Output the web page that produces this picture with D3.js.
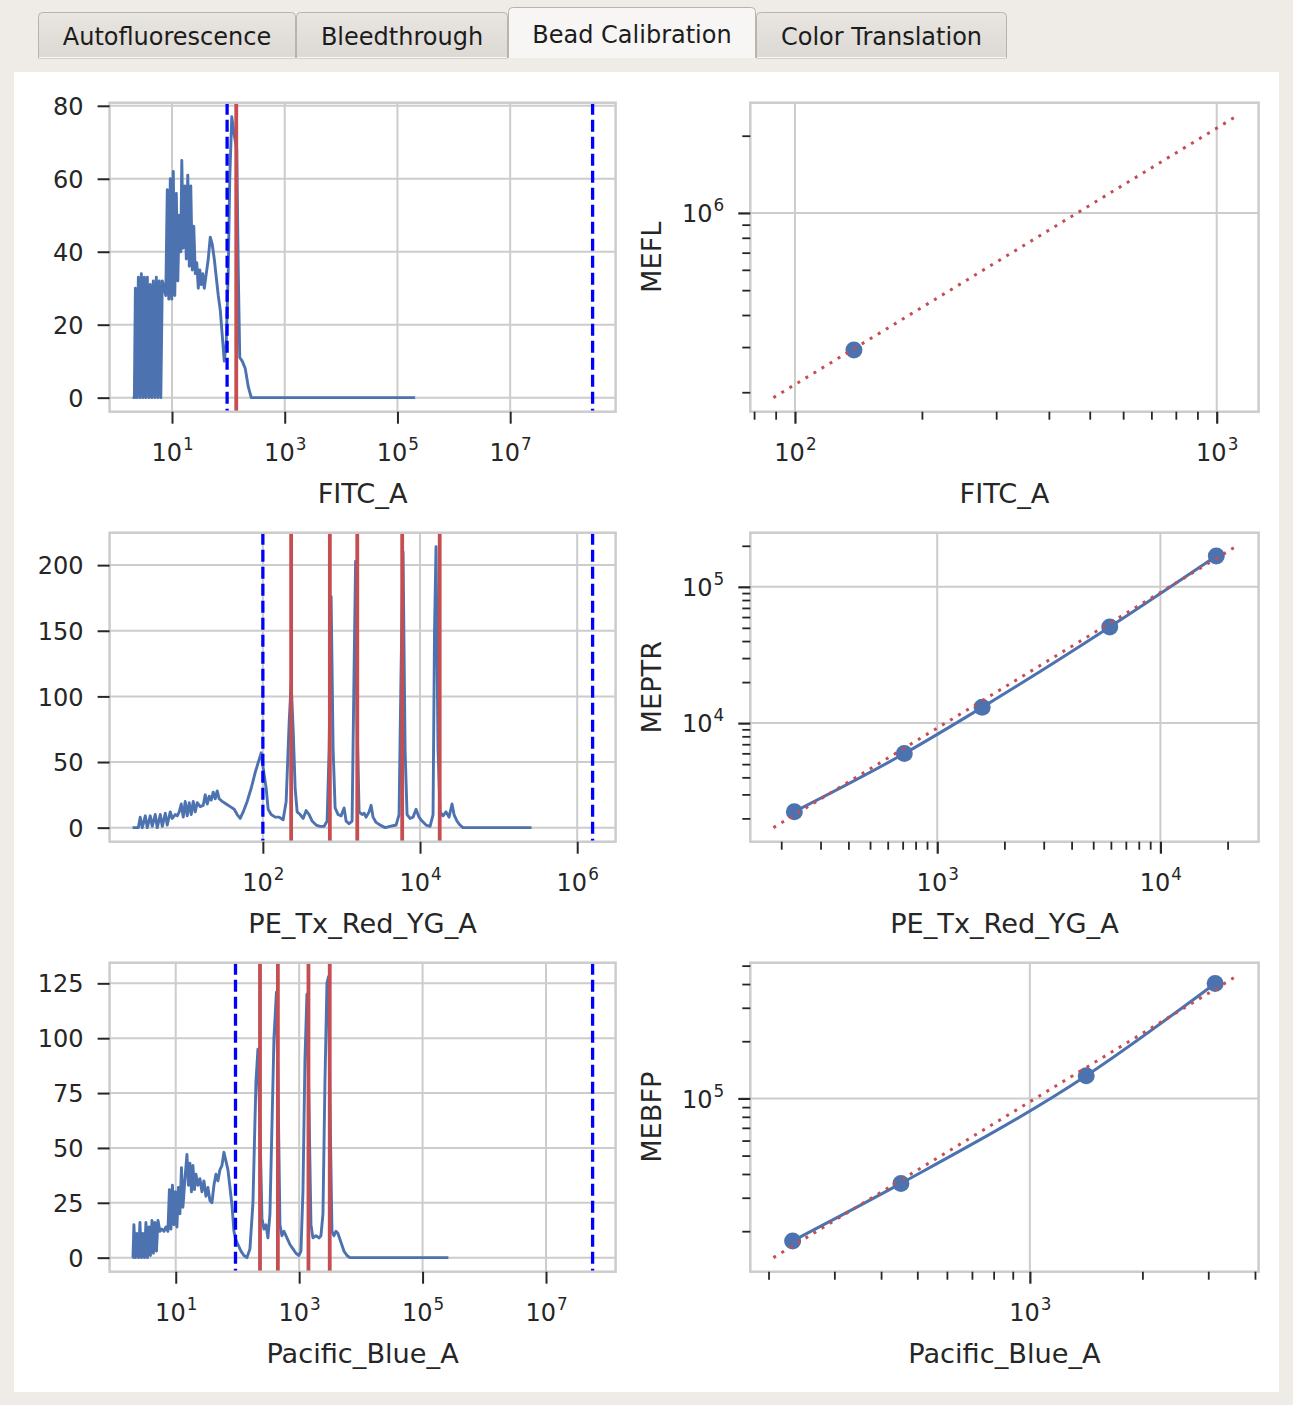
<!DOCTYPE html>
<html><head><meta charset="utf-8">
<script src="https://cdn.jsdelivr.net/npm/d3@7"></script>
<style>
html,body{margin:0;padding:0;background:#efece8;}
svg{display:block;}
</style></head><body>
<svg id="chart" width="1293" height="1405"></svg>
<script>
// ---------------- DATA ----------------
const tabLabels = ["Autofluorescence", "Bleedthrough", "Bead Calibration", "Color Translation"];
const activeTab = "Bead Calibration";

// FITC_A bead histogram
const fitcBins = [2.0,2.15,2.24,2.38,2.53,2.69,2.86,3.04,3.23,3.43,3.65,3.88,4.12,4.38,4.66,4.95,5.27,5.60,5.95,6.33,6.73,7.30,7.76,8.25,8.77,9.33,9.92,10.54,11.21,11.92,12.67,13.47,14.32,14.92,15.86,16.87,17.93,19.06,20.26,21.54,22.90,24.35,25.89,27.53,29.27,31.11,33.07,35.17,37.39,40.56,44.01,47.76,51.82,56.23,61.02,66.21,71.84,77.95,84.58,91.77,99.59,105.9,114.9,127.2,140.9,149.8,159.3,176.4,199.4,225.4,254.7,205900];
const fitcCounts = [0,0,30,0,33,0,34,0,33,0,33,0,31,0,32,0,33,0,32,0,32,30,28,57,27,60,27,62,28,56,32,50,40,65,41,58,38,61,36,58,35,47,34,37,30,35,31,34,30,34,38,44,42,38,33,28,24,17,10,15,35,60,77,72,68,35,11,10,8,3,0,0];
const fitcGates = [95, 2.9e8];
const fitcPeaks = [138];
const fitcHistXTicks = [1e1, 1e3, 1e5, 1e7];
const fitcHistYTicks = [0, 20, 40, 60, 80];

// FITC_A -> MEFL calibration
const fitcBeadX = [138];
const fitcBeadMEFL = [292000];
const fitcFitX = [88.9, 1108];
const fitcFitY = [190500, 2371000];
const mefXTicks = [1e2, 1e3];
const mefYTicks = [1e6];

// PE_Tx_Red_YG_A bead histogram
const peBins = [2.2,2.6,2.75,2.92,3.19,3.38,3.69,3.91,4.27,4.53,4.95,5.25,5.73,6.07,6.63,7.03,7.67,8.14,8.63,9.15,9.70,10.28,10.90,11.56,12.26,13.00,13.78,14.61,15.95,17.42,18.47,19.58,20.77,22.02,23.34,24.75,26.24,27.82,30.38,34.16,38.40,43.17,47.13,51.47,56.18,63.16,71.01,79.84,89.74,95.16,103.9,110.2,116.8,127.5,143.4,161.2,181.2,197.9,216.0,229.1,242.9,257.6,273.1,298.1,325.5,355.4,388.0,423.7,476.3,535.4,601.9,657.2,696.8,738.8,783.3,830.6,907,990,1081,1146,1251,1366,1448,1514,1582,1677,1831,1942,2058,2247,2383,2526,2759,3101,3590,4156,4955,5409,5736,6081,6448,6837,7464,8149,8898,9714,10610,11930,13410,14640,15290,15980,16940,17970,19620,21420,23380,25530,27060,29550,32270,35230,262144];
const peCounts = [0,0,8,0,9,0,9,1,10,0,10,1,11,2,12,7,10,9,12,18,8,20,9,19,10,20,12,19,16,17,25,18,24,21,27,22,28,22,20,18,16,14,10,7,12,20,30,42,52,57,40,30,14,10,8,8,6,20,80,110,75,30,12,10,7,13,10,5,2,1,1,5,60,176,60,15,10,9,15,5,3,5,120,203,80,12,10,11,8,12,17,8,4,2,0,1,2,10,120,210,60,10,7,8,14,8,5,2,1,10,150,214,60,12,9,12,8,18,10,5,2,0,0];
const peGates = [100, 1.57e6];
const pePeaks = [229, 712, 1590, 5930, 17800];
const peHistXTicks = [1e2, 1e4, 1e6];
const peHistYTicks = [0, 50, 100, 150, 200];

// PE_Tx_Red_YG_A -> MEPTR calibration
const peBeadX = [229, 712, 1590, 5930, 17800];
const peBeadMEPTR = [2240, 5980, 13050, 50700, 168000];
const peFitX = [184.5, 21700];
const peFitY = [1710, 196800];
const meptrXTicks = [1e3, 1e4];
const meptrYTicks = [1e4, 1e5];

// Pacific_Blue_A bead histogram
const pbBins = [2.0,2.03,2.10,2.22,2.35,2.49,2.63,2.78,2.94,3.11,3.29,3.48,3.68,3.89,4.12,4.35,4.60,4.87,5.15,5.55,5.97,6.44,6.94,7.47,7.90,8.36,8.84,9.35,9.89,10.46,11.06,11.70,12.37,13.08,14.10,15.19,16.06,16.99,17.96,19.00,20.09,21.25,22.89,24.67,26.58,28.64,30.86,33.25,35.83,38.60,41.59,44.82,48.30,52.04,56.08,60.42,65.11,70.15,75.59,81.45,87.77,94.54,101.9,114.0,127.5,142.5,159.4,178.3,199.4,214.8,231.5,249.5,268.8,289.6,312.1,336.3,362.4,390.5,428.5,453.2,488.3,526.1,566.9,610.9,658.2,709.3,793.3,887.2,992.2,1069,1152,1241,1337,1441,1553,1673,1871,2093,2255,2430,2618,2821,2984,3155,3400,3663,3947,4253,4756,5319,5950,6654,262144];
const pbCounts = [0,0,15,0,11,0,16,0,11,0,16,0,14,1,17,2,16,3,17,12,13,12,14,12,31,13,33,15,30,14,32,20,41,23,36,47,33,43,30,42,31,38,33,36,30,35,28,32,26,25,33,38,35,40,42,48,44,40,32,24,12,8,6,3,1,0,4,25,80,95,60,18,13,15,9,20,60,100,121,80,15,10,12,10,8,6,4,2,1,3,30,90,120,70,15,9,10,9,10,20,80,125,128,70,12,10,12,11,7,3,1,0,0];
const pbGates = [93, 5.69e7];
const pbPeaks = [232, 452, 1415, 3130];
const pbHistXTicks = [1e1, 1e3, 1e5, 1e7];
const pbHistYTicks = [0, 25, 50, 75, 100, 125];

// Pacific_Blue_A -> MEBFP calibration
const pbBeadX = [232, 452, 1415, 3130];
const pbBeadMEBFP = [17770, 35690, 131700, 403000];
const pbFitX = [206.1, 3548];
const pbFitY = [14510, 437000];
const mebfpXTicks = [1e3];
const mebfpYTicks = [1e5];

// ---------------- STYLE ----------------
const FONT = "'DejaVu Sans', 'Liberation Sans', sans-serif";
const INK = "#262626";
const GRID = "#cccccc";
const BLUE = "#4C72B0";
const RED = "#C44E52";
const TICK_FS = 24, LABEL_FS = 27.2, TAB_FS = 24;
const SUP_FS = TICK_FS * 0.7, SUP_RAISE = 11;

const svg = d3.select("#chart");
svg.append("rect").attr("width", 1293).attr("height", 1405).attr("fill", "#efece8");
svg.append("rect").attr("x", 14).attr("y", 72).attr("width", 1265).attr("height", 1320).attr("fill", "#ffffff");

// ---------------- TABS ----------------
const defs = svg.append("defs");
const grad = defs.append("linearGradient").attr("id", "tabGrad").attr("x1", 0).attr("y1", 0).attr("x2", 0).attr("y2", 1);
grad.append("stop").attr("offset", "0%").attr("stop-color", "#e9e6e2");
grad.append("stop").attr("offset", "100%").attr("stop-color", "#dcd8d3");

const tabEdges = [38, 296, 508, 756, 1007];
function tabPath(x0, x1, y0, y1, r) {
  return `M${x0},${y1}V${y0 + r}Q${x0},${y0} ${x0 + r},${y0}H${x1 - r}Q${x1},${y0} ${x1},${y0 + r}V${y1}`;
}
const tabs = tabLabels.map((t, i) => ({ label: t, x0: tabEdges[i], x1: tabEdges[i + 1], active: t === activeTab }));
const tabG = svg.append("g");
tabs.filter(d => !d.active).concat(tabs.filter(d => d.active)).forEach(d => {
  const y0 = d.active ? 7 : 12;
  tabG.append("path").attr("d", tabPath(d.x0 + 0.5, d.x1 - 0.5, y0 + 0.5, 58, 4) + (d.active ? "" : "Z"))
    .attr("fill", d.active ? "#f7f6f4" : "url(#tabGrad)")
    .attr("stroke", "#b7b3ad").attr("stroke-width", 1);
  if (!d.active) tabG.append("line").attr("x1", d.x0 + 1).attr("x2", d.x1 - 1).attr("y1", 57.5).attr("y2", 57.5).attr("stroke", "#f8f7f5");
  tabG.append("text").attr("x", (d.x0 + d.x1) / 2).attr("y", d.active ? 43 : 45)
    .attr("text-anchor", "middle").attr("font-family", FONT).attr("font-size", TAB_FS)
    .attr("fill", "#1c1c1c").text(d.label);
});

// ---------------- HELPERS ----------------
const COLS = [{ x0: 109.6, x1: 615.6 }, { x0: 750.3, x1: 1258.6 }];
const ROWS = [{ y0: 102.7, y1: 411.7 }, { y0: 532.7, y1: 841.7 }, { y0: 962.7, y1: 1271.7 }];
let clipId = 0;

function logPadDomain(vals) {
  const lo = Math.log10(d3.min(vals)), hi = Math.log10(d3.max(vals));
  const p = (hi - lo) * 0.05;
  return [Math.pow(10, lo - p), Math.pow(10, hi + p)];
}
const isPow10 = v => Math.abs(Math.log10(v) - Math.round(Math.log10(v))) < 1e-9;

function powLabel(sel, v) {
  sel.append("tspan").text("10");
  sel.append("tspan").attr("font-size", SUP_FS).attr("dx", 1).attr("dy", -SUP_RAISE).text(Math.round(Math.log10(v)));
}

function makeFrame(g, fr) {
  return g.append("rect").attr("x", fr.x0).attr("y", fr.y0).attr("width", fr.x1 - fr.x0).attr("height", fr.y1 - fr.y0)
    .attr("fill", "none").attr("stroke", GRID).attr("stroke-width", 2.5);
}

function makeClip(fr) {
  const id = "clip" + (clipId++);
  defs.append("clipPath").attr("id", id).append("rect")
    .attr("x", fr.x0).attr("y", fr.y0).attr("width", fr.x1 - fr.x0).attr("height", fr.y1 - fr.y0);
  return `url(#${id})`;
}

function xAxis(g, x, fr, ticks, size, width, withLabels) {
  const ax = g.append("g").attr("transform", `translate(0,${fr.y1})`)
    .call(d3.axisBottom(x).tickValues(ticks).tickSizeInner(size).tickSizeOuter(0).tickFormat(() => ""));
  ax.select(".domain").remove();
  ax.selectAll(".tick line").attr("stroke", INK).attr("stroke-width", width);
  ax.selectAll(".tick text").remove();
  if (withLabels) {
    ax.selectAll(".tick").append("text").attr("y", 49).attr("text-anchor", "middle")
      .attr("font-family", FONT).attr("font-size", TICK_FS).attr("fill", INK)
      .each(function (d) { powLabel(d3.select(this), d); });
  }
  return ax;
}

function yAxis(g, y, fr, ticks, size, width, labelFn) {
  const ax = g.append("g").attr("transform", `translate(${fr.x0},0)`)
    .call(d3.axisLeft(y).tickValues(ticks).tickSizeInner(size).tickSizeOuter(0).tickFormat(() => ""));
  ax.select(".domain").remove();
  ax.selectAll(".tick line").attr("stroke", INK).attr("stroke-width", width);
  ax.selectAll(".tick text").remove();
  if (labelFn) {
    ax.selectAll(".tick").append("text").attr("x", -26).attr("y", 0.36 * TICK_FS).attr("text-anchor", "end")
      .attr("font-family", FONT).attr("font-size", TICK_FS).attr("fill", INK)
      .each(function (d) { labelFn(d3.select(this), d); });
  }
  return ax;
}

function xTitle(g, fr, text) {
  g.append("text").attr("x", (fr.x0 + fr.x1) / 2).attr("y", fr.y1 + 91).attr("text-anchor", "middle")
    .attr("font-family", FONT).attr("font-size", LABEL_FS).attr("fill", INK).text(text);
}
function yTitle(g, fr, text) {
  g.append("text").attr("transform", `translate(${fr.x0 - 89},${(fr.y0 + fr.y1) / 2}) rotate(-90)`)
    .attr("text-anchor", "middle").attr("font-family", FONT).attr("font-size", LABEL_FS).attr("fill", INK).text(text);
}

// ---------------- HISTOGRAM PANEL ----------------
function histPanel(p) {
  const fr = { ...COLS[0], ...ROWS[p.row] };
  const g = svg.append("g");
  const x = d3.scaleLog().domain(logPadDomain(p.bins.concat(p.gates))).range([fr.x0, fr.x1]);
  const ymax = d3.max(p.counts);
  const y = d3.scaleLinear().domain([-0.05 * ymax, 1.05 * ymax]).range([fr.y1, fr.y0]);

  // grid
  g.append("g").selectAll("line").data(p.xTicks).join("line")
    .attr("x1", d => x(d)).attr("x2", d => x(d)).attr("y1", fr.y0).attr("y2", fr.y1)
    .attr("stroke", GRID).attr("stroke-width", 2);
  g.append("g").selectAll("line").data(p.yTicks).join("line")
    .attr("x1", fr.x0).attr("x2", fr.x1).attr("y1", d => y(d)).attr("y2", d => y(d))
    .attr("stroke", GRID).attr("stroke-width", 2);

  const clip = makeClip(fr);
  const dg = g.append("g").attr("clip-path", clip);
  dg.append("path").datum(d3.zip(p.bins, p.counts))
    .attr("d", d3.line().x(d => x(d[0])).y(d => y(d[1])))
    .attr("fill", "none").attr("stroke", BLUE).attr("stroke-width", 2.9).attr("stroke-linejoin", "round");
  dg.selectAll(".gate").data(p.gates).join("line").attr("class", "gate")
    .attr("x1", d => x(d)).attr("x2", d => x(d)).attr("y1", fr.y0).attr("y2", fr.y1)
    .attr("stroke", "#0000ff").attr("stroke-width", 3.3).attr("stroke-dasharray", "12,5");
  dg.selectAll(".peak").data(p.peaks).join("line").attr("class", "peak")
    .attr("x1", d => x(d)).attr("x2", d => x(d)).attr("y1", fr.y0).attr("y2", fr.y1)
    .attr("stroke", RED).attr("stroke-width", 3.8);

  makeFrame(g, fr);
  xAxis(g, x, fr, p.xTicks, 12, 2, true);
  yAxis(g, y, fr, p.yTicks, 12, 2, (s, d) => s.text(d));
  xTitle(g, fr, p.xLabel);
}

// ---------------- CALIBRATION PANEL ----------------
function calibPanel(p) {
  const fr = { ...COLS[1], ...ROWS[p.row] };
  const g = svg.append("g");
  const x = d3.scaleLog().domain(logPadDomain(p.fitX.concat(p.px))).range([fr.x0, fr.x1]);
  const y = d3.scaleLog().domain(logPadDomain(p.fitY.concat(p.py))).range([fr.y1, fr.y0]);

  g.append("g").selectAll("line").data(p.xTicks).join("line")
    .attr("x1", d => x(d)).attr("x2", d => x(d)).attr("y1", fr.y0).attr("y2", fr.y1)
    .attr("stroke", GRID).attr("stroke-width", 2);
  g.append("g").selectAll("line").data(p.yTicks).join("line")
    .attr("x1", fr.x0).attr("x2", fr.x1).attr("y1", d => y(d)).attr("y2", d => y(d))
    .attr("stroke", GRID).attr("stroke-width", 2);

  const clip = makeClip(fr);
  const dg = g.append("g").attr("clip-path", clip);
  const pts = d3.zip(p.px, p.py);
  if (pts.length > 1) {
    dg.append("path").datum(pts)
      .attr("d", d3.line().x(d => x(d[0])).y(d => y(d[1])).curve(d3.curveMonotoneX))
      .attr("fill", "none").attr("stroke", BLUE).attr("stroke-width", 3);
  }
  dg.selectAll("circle").data(pts).join("circle")
    .attr("cx", d => x(d[0])).attr("cy", d => y(d[1])).attr("r", 8.5).attr("fill", BLUE);
  dg.append("path").datum(d3.zip(p.fitX, p.fitY))
    .attr("d", d3.line().x(d => x(d[0])).y(d => y(d[1])))
    .attr("fill", "none").attr("stroke", RED).attr("stroke-width", 3).attr("stroke-dasharray", "3,6.4");

  makeFrame(g, fr);
  const xMinor = x.ticks().filter(v => !isPow10(v));
  const yMinor = y.ticks().filter(v => !isPow10(v));
  xAxis(g, x, fr, xMinor, 8, 1.8, false);
  xAxis(g, x, fr, p.xTicks, 12, 2.2, true);
  yAxis(g, y, fr, yMinor, 8, 1.8, null);
  yAxis(g, y, fr, p.yTicks, 12, 2.2, powLabel);
  xTitle(g, fr, p.xLabel);
  yTitle(g, fr, p.yLabel);
}

histPanel({ row: 0, bins: fitcBins, counts: fitcCounts, gates: fitcGates, peaks: fitcPeaks,
  xTicks: fitcHistXTicks, yTicks: fitcHistYTicks, xLabel: "FITC_A" });
calibPanel({ row: 0, px: fitcBeadX, py: fitcBeadMEFL, fitX: fitcFitX, fitY: fitcFitY,
  xTicks: mefXTicks, yTicks: mefYTicks, xLabel: "FITC_A", yLabel: "MEFL" });

histPanel({ row: 1, bins: peBins, counts: peCounts, gates: peGates, peaks: pePeaks,
  xTicks: peHistXTicks, yTicks: peHistYTicks, xLabel: "PE_Tx_Red_YG_A" });
calibPanel({ row: 1, px: peBeadX, py: peBeadMEPTR, fitX: peFitX, fitY: peFitY,
  xTicks: meptrXTicks, yTicks: meptrYTicks, xLabel: "PE_Tx_Red_YG_A", yLabel: "MEPTR" });

histPanel({ row: 2, bins: pbBins, counts: pbCounts, gates: pbGates, peaks: pbPeaks,
  xTicks: pbHistXTicks, yTicks: pbHistYTicks, xLabel: "Pacific_Blue_A" });
calibPanel({ row: 2, px: pbBeadX, py: pbBeadMEBFP, fitX: pbFitX, fitY: pbFitY,
  xTicks: mebfpXTicks, yTicks: mebfpYTicks, xLabel: "Pacific_Blue_A", yLabel: "MEBFP" });
</script>
</body></html>
